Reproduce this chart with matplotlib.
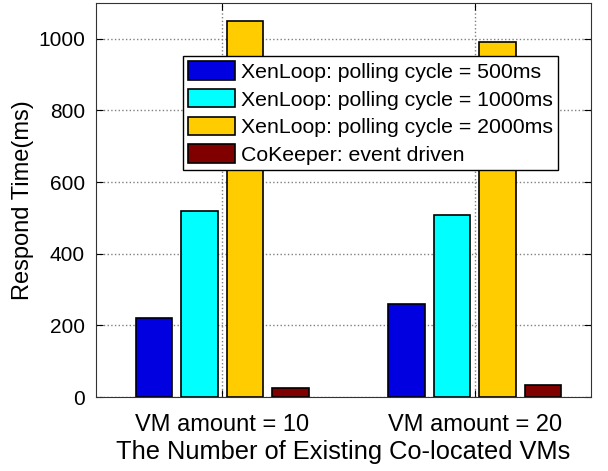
import numpy as np
import matplotlib
matplotlib.use("Agg")
import matplotlib.pyplot as plt

plt.rcParams['font.family'] = ['Liberation Sans', 'DejaVu Sans']

groups = ["VM amount = 10", "VM amount = 20"]
series = ["XenLoop: polling cycle = 500ms", "XenLoop: polling cycle = 1000ms",
          "XenLoop: polling cycle = 2000ms", "CoKeeper: event driven"]
values = [
    [220, 260],
    [518, 508],
    [1050, 990],
    [25, 35],
]
colors = ["#0000e0", "#00ffff", "#ffcc00", "#800000"]

fig = plt.figure(figsize=(6.08, 4.71), dpi=100)
ax = fig.add_axes([0.158, 0.157, 0.814, 0.837])

x = np.arange(1, len(groups) + 1)
pitch, width = 0.18, 0.145
for i, (name, vals, c) in enumerate(zip(series, values, colors)):
    ax.bar(x + (i - 1.5) * pitch, vals, width, color=c, edgecolor="black",
           linewidth=1.2, label=name, zorder=3)

ax.set_xlim(0.5, 2.46)
ax.set_ylim(0, 1100)
ax.set_xticks(x)
ax.set_xticklabels(groups)
ax.set_yticks([0, 200, 400, 600, 800, 1000])
ax.tick_params(direction="in", top=True, right=True, length=5)
ax.tick_params(axis="x", labelsize=17, pad=12)
ax.tick_params(axis="y", labelsize=15, pad=8)
ax.grid(True, linestyle=":", color="gray", linewidth=1, zorder=0)
ax.set_xlabel("The Number of Existing Co-located VMs", fontsize=18.3, labelpad=3)
ax.set_ylabel("Respond Time(ms)", fontsize=17, labelpad=3)
for s in ax.spines.values():
    s.set_color("#333333")

leg = ax.legend(loc="upper left", bbox_to_anchor=(0.176, 0.865), fontsize=15.3,
                handlelength=2.2, handleheight=0.95, handletextpad=0.25,
                labelspacing=0.34, borderpad=0.25, borderaxespad=0,
                fancybox=False, framealpha=1, edgecolor="black")
leg.get_frame().set_linewidth(1)
leg.set_zorder(5)

fig.savefig("out.png", dpi=100)
